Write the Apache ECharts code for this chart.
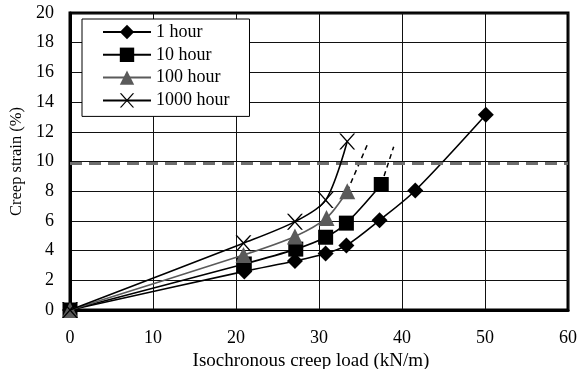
<!DOCTYPE html>
<html>
<head>
<meta charset="utf-8">
<script src="https://cdn.jsdelivr.net/npm/echarts@6/dist/echarts.min.js"></script>
<style>html,body{margin:0;padding:0;background:#fff}#c{width:580px;height:369px}</style>
</head>
<body>
<div id="c"></div>
<script>
var seriesNames = ['1 hour', '10 hour', '100 hour', '1000 hour'];
var load1h = [0, 21.0, 27.1, 30.8, 33.3, 37.3, 41.6, 50.1];
var strain1h = [0, 2.6, 3.3, 3.8, 4.35, 6.05, 8.05, 13.15];
var load10h = [0, 21.0, 27.2, 30.8, 33.3, 37.5];
var strain10h = [0, 3.1, 4.1, 4.9, 5.85, 8.45];
var load100h = [0, 20.9, 27.1, 30.9, 33.4];
var strain100h = [0, 3.7, 4.95, 6.2, 8.0];
var load1000h = [0, 20.9, 27.1, 30.8, 33.4];
var strain1000h = [0, 4.5, 5.95, 7.4, 11.35];
var ext10hLoad = [37.5, 39.0];
var ext10hStrain = [8.45, 11.0];
var ext100hLoad = [33.4, 35.8];
var ext100hStrain = [8.0, 11.1];
var limitStrain = 9.85;
var xTicks = [0, 10, 20, 30, 40, 50, 60];
var yTicks = [0, 2, 4, 6, 8, 10, 12, 14, 16, 18, 20];

function pairs(xs, ys) { return xs.map(function (x, i) { return [x, ys[i]]; }); }

var crossPath = 'path://M0,0 L2.2,0 L10,7.8 L17.8,0 L20,0 L11.1,9 L20,18 L17.8,18 L10,10.2 L2.2,18 L0,18 L8.9,9 Z';
var font = 'Liberation Serif';

var chart = echarts.init(document.getElementById('c'));
chart.setOption({
  animation: false,
  backgroundColor: '#fff',
  textStyle: { fontFamily: font },
  grid: { left: 70, right: 12, top: 13, bottom: 59, containLabel: false, outerBoundsMode: 'none',
    show: true, borderColor: '#000', borderWidth: 3, backgroundColor: 'transparent' },
  legend: {
    data: seriesNames,
    orient: 'vertical',
    left: 82, top: 19,
    padding: [4, 20, 7, 20],
    itemWidth: 48, itemHeight: 18, itemGap: 4.8,
    backgroundColor: '#fff', borderColor: '#000', borderWidth: 1,
    textStyle: { fontFamily: font, fontSize: 18, color: '#000', padding: [0, 0, 0, 0] }
  },
  xAxis: {
    type: 'value', min: 0, max: 60, interval: 10,
    name: 'Isochronous creep load (kN/m)', nameLocation: 'middle', nameGap: 33,
    nameTextStyle: { fontFamily: font, fontSize: 19, color: '#000', padding: [0, 16, 0, 0] },
    axisLine: { show: true, lineStyle: { color: '#000', width: 3 } },
    axisTick: { show: false },
    axisLabel: { fontFamily: font, fontSize: 18, color: '#000', margin: 19,
      formatter: function (v) { return xTicks.indexOf(v) >= 0 ? String(v) : ''; } },
    splitLine: { show: true, lineStyle: { color: '#111', width: 1 } }
  },
  yAxis: {
    type: 'value', min: 0, max: 20, interval: 2,
    name: 'Creep strain (%)', nameLocation: 'middle', nameGap: 33,
    nameTextStyle: { fontFamily: font, fontSize: 16.5, color: '#000' },
    axisLine: { show: true, lineStyle: { color: '#000', width: 3 } },
    axisTick: { show: false },
    axisLabel: { fontFamily: font, fontSize: 18, color: '#000', margin: 16,
      formatter: function (v) { return yTicks.indexOf(v) >= 0 ? String(v) : ''; } },
    splitLine: { show: true, lineStyle: { color: '#111', width: 1 } }
  },
  series: [
    {
      name: '1 hour', type: 'line', data: pairs(load1h, strain1h), smooth: 0.3,
      symbol: 'diamond', symbolSize: 16, z: 3,
      itemStyle: { color: '#000' }, lineStyle: { color: '#000', width: 1.6 },
      markLine: {
        silent: true, symbol: 'none', label: { show: false },
        lineStyle: { color: '#6e6e6e', width: 3, type: [12, 7] },
        data: [{ yAxis: limitStrain }]
      }
    },
    {
      name: '10 hour', type: 'line', data: pairs(load10h, strain10h), smooth: 0.3,
      symbol: 'rect', symbolSize: 15, z: 4,
      itemStyle: { color: '#000' }, lineStyle: { color: '#000', width: 1.6 }
    },
    {
      name: '100 hour', type: 'line', data: pairs(load100h, strain100h), smooth: 0.3,
      symbol: 'triangle', symbolSize: 16, z: 5,
      itemStyle: { color: '#5a5a5a' }, lineStyle: { color: '#5a5a5a', width: 1.6 }
    },
    {
      name: '1000 hour', type: 'line', data: pairs(load1000h, strain1000h), smooth: 0.3,
      symbol: crossPath, symbolSize: 16, z: 6,
      itemStyle: { color: '#000' }, lineStyle: { color: '#000', width: 1.6 }
    },
    {
      name: 'ext10', type: 'line', data: pairs(ext10hLoad, ext10hStrain), symbol: 'none', z: 2,
      lineStyle: { color: '#000', width: 1.5, type: [5, 4] }
    },
    {
      name: 'ext100', type: 'line', data: pairs(ext100hLoad, ext100hStrain), symbol: 'none', z: 2,
      lineStyle: { color: '#000', width: 1.5, type: [5, 4] }
    }
  ]
});
</script>
</body>
</html>
